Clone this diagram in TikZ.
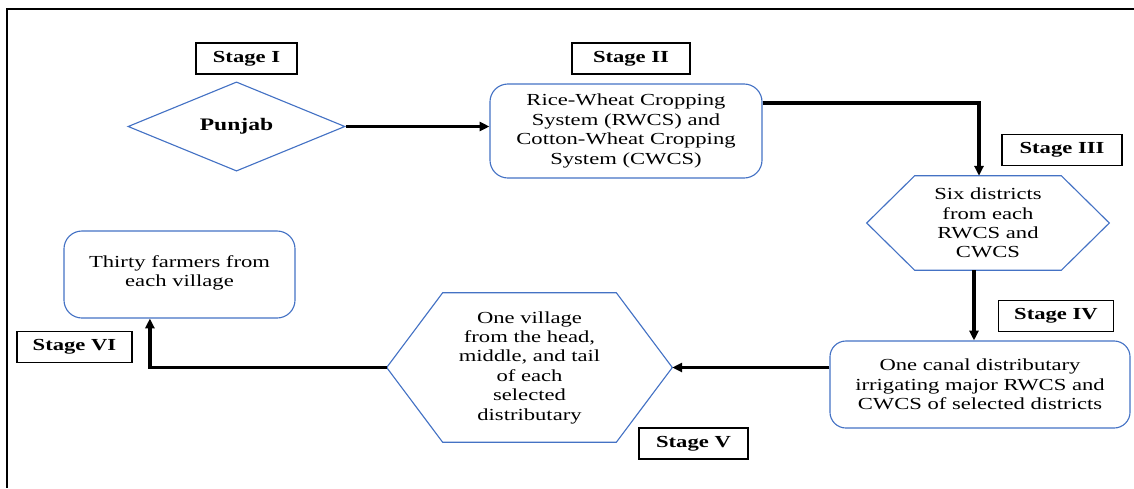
\documentclass[tikz,border=0pt]{standalone}
\usepackage{fontspec}
\setmainfont[FakeStretch=1.34]{Liberation Serif}
\usetikzlibrary{shapes.geometric,arrows.meta,calc}
\definecolor{outlineblue}{RGB}{68,114,196}
\tikzset{
  txt/.style={font=\fontsize{12}{13.8}\selectfont, align=center},
  stagebox/.style={txt, font=\fontsize{12}{13.8}\selectfont\bfseries, draw, line width=1.1pt, minimum height=0.78cm, inner sep=0pt},
  flowbox/.style={txt, draw=outlineblue, line width=0.8pt, rounded corners=0.45cm, inner sep=0pt},
  hexnode/.style={txt, inner sep=0pt},
  hexline/.style={draw=outlineblue, line width=0.8pt},
  link/.style={line width=2.3pt, -{Triangle[length=7pt,width=6.5pt]}}
}
\begin{document}
\begin{tikzpicture}[x=0.025cm, y=-0.025cm]
  \useasboundingbox (0,0) rectangle (1134,488);
  % outer frame
  \draw[line width=1.2pt] (1134,9) -- (7,9) -- (7,488);

  % stage labels
  \node[stagebox, minimum width=2.525cm] (s1) at (246.5,58.5) {Stage I};
  \node[stagebox, minimum width=2.95cm]  (s2) at (631,58.5) {Stage II};
  \node[stagebox, minimum width=3.0cm]   (s3) at (1062,150) {Stage III};
  \node[stagebox, minimum width=2.875cm] (s4) at (1056,316) {Stage IV};
  \node[stagebox, minimum width=2.725cm] (s5) at (693.5,443.5) {Stage V};
  \node[stagebox, minimum width=2.875cm] (s6) at (74.5,347) {Stage VI};

  % flow
  \node[diamond, draw=outlineblue, line width=0.8pt, txt, font=\fontsize{12.5}{13.8}\selectfont\bfseries,
        minimum width=5.425cm, minimum height=1.575cm, inner sep=0pt] (punjab) at (236.5,126.5) {Punjab};
  \node[flowbox, minimum width=6.8cm, minimum height=2.35cm] (rwcs) at (626,131)
    {Rice-Wheat Cropping\\System (RWCS) and\\Cotton-Wheat Cropping\\System (CWCS)};
  \node[hexnode, minimum width=6.05cm, minimum height=2.35cm] (hexA) at (988,223)
    {Six districts\\from each\\RWCS and\\CWCS};
  \draw[hexline] (hexA.west) -- ([xshift=1.2cm]hexA.north west) -- ([xshift=-1.2cm]hexA.north east)
    -- (hexA.east) -- ([xshift=-1.2cm]hexA.south east) -- ([xshift=1.2cm]hexA.south west) -- cycle;
  \node[flowbox, rounded corners=0.4cm, minimum width=7.5cm, minimum height=2.175cm] (canal) at (980,384.5)
    {One canal distributary\\irrigating major RWCS and\\CWCS of selected districts};
  \node[hexnode, minimum width=7.125cm, minimum height=3.725cm] (hexB) at (529.5,367.5)
    {One village\\from the head,\\middle, and tail\\of each\\selected\\distributary};
  \draw[hexline] (hexB.west) -- ([xshift=1.4cm]hexB.north west) -- ([xshift=-1.4cm]hexB.north east)
    -- (hexB.east) -- ([xshift=-1.4cm]hexB.south east) -- ([xshift=1.4cm]hexB.south west) -- cycle;
  \node[flowbox, minimum width=5.775cm, minimum height=2.175cm] (farmers) at (179.5,274.5)
    {Thirty farmers from\\each village\\[-1.6ex]};

  % connectors
  \draw[link] (punjab.east) -- (punjab.east -| rwcs.west);
  \draw[link] ([yshift=0.7cm]rwcs.east) -| ([xshift=-0.225cm]hexA.north);
  \draw[link] ([xshift=-0.35cm]hexA.south) -- ([xshift=-0.35cm]hexA.south |- canal.north);
  \draw[link] (hexB.east -| canal.west) -- (hexB.east);
  \draw[link] (hexB.west) -| ([xshift=-0.74cm]farmers.south);
\end{tikzpicture}
\end{document}
